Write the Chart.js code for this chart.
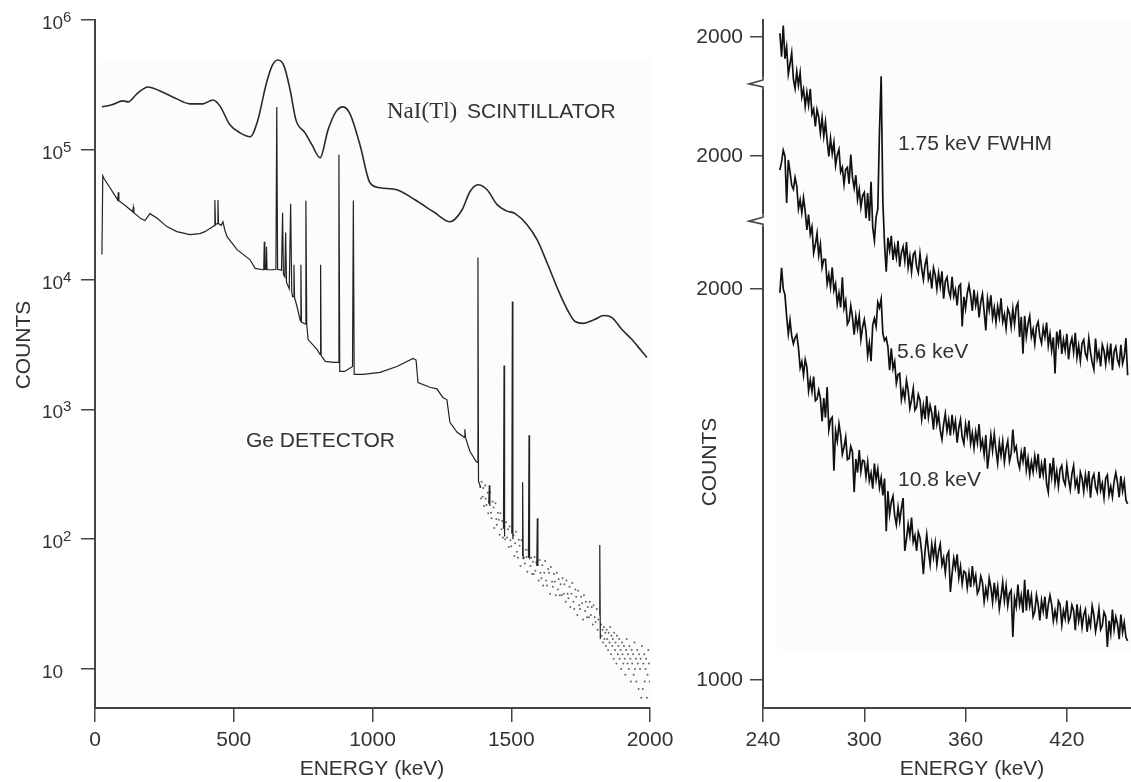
<!DOCTYPE html>
<html>
<head>
<meta charset="utf-8">
<script src="https://cdn.jsdelivr.net/npm/chart.js@4.4.0/dist/chart.umd.min.js"></script>
<style>
  html, body { margin: 0; padding: 0; background: #fff; }
  #wrap { position: relative; width: 1131px; height: 782px; }
  canvas { position: absolute; top: 0; }
  #spectra { left: 0; }
  #zoomed { left: 680px; }
</style>
</head>
<body>
<div id="wrap">
  <canvas id="spectra" width="680" height="782"></canvas>
  <canvas id="zoomed" width="451" height="782"></canvas>
</div>
<script>
// ---- full-range spectra (left panel) ----
const naiEnergy = [25, 61, 101, 119, 151, 191, 234, 288, 342, 389,
  425, 450, 486, 523, 559, 587, 616, 638, 659, 681,
  703, 724, 757, 782, 811, 840, 868, 894, 919, 955,
  991, 1027, 1088, 1153, 1225, 1279, 1323, 1351, 1380, 1413,
  1449, 1481, 1514, 1557, 1593, 1632, 1668, 1705, 1730, 1759,
  1798, 1834, 1863, 1899, 1935, 1971, 1989];
const naiCounts = [214000, 222000, 238000, 234000, 270000, 305000, 284000, 251000, 226000, 226000,
  242000, 218000, 156000, 135000, 126000, 170000, 316000, 443000, 492000, 443000,
  290000, 170000, 135000, 109000, 86800, 143000, 196000, 214000, 189000, 109000,
  55700, 51000, 49200, 41200, 32700, 27900, 34500, 47500, 53800, 49200,
  37800, 34000, 32200, 26500, 20300, 13000, 8400, 5700, 4750, 4600,
  4900, 5280, 5100, 4120, 3450, 2790, 2510];

// Ge line: continuum + peaks; null breaks the line so only the peaks show in the sparse tail
const geEnergy = [25, 28, 33, 54, 72, 82, 84, 86, 110, 136,
  138, 140, 165, 180, 198, 223, 259, 295, 342, 378,
  396, 425, 430, 432, 434, 441, 443, 445, 455, 461,
  468, 476, 512, 559, 577, 605, 608, 610, 612, 616,
  618, 620, 640, 652, 655, 658, 672, 676, 679, 684,
  687, 690, 700, 705, 709, 712, 715, 717, 719, 728,
  740, 742, 744, 757, 760, 763, 768, 800, 811, 813,
  815, 830, 860, 876, 879, 882, 900, 928, 931, 934,
  966, 1027, 1088, 1146, 1157, 1164, 1207, 1232, 1254, 1268,
  1279, 1305, 1331, 1333, 1335, 1351, 1373, 1378, 1380, 1382,
  1390, 1400, 1419, 1421, 1423, 1450, 1472, 1474, 1476, 1490,
  1502, 1504, 1506, 1520, 1539, 1541, 1543, 1550, 1562, 1564,
  1566, 1580, 1592, 1594, 1596, 1700, 1817, 1819, 1821];
const geCounts = [15600, 63000, 59800, 51000, 44300, 41000, 47000, 40500, 37000, 33300,
  36000, 32800, 29500, 28500, 32200, 29800, 25600, 23400, 22200, 22600,
  23400, 25600, 26000, 41000, 26500, 27000, 41000, 27000, 26200, 27900,
  24000, 21400, 17000, 14200, 12200, 11900, 11900, 19600, 12000, 12000,
  17900, 11900, 11900, 12000, 214000, 12000, 11800, 32700, 11000, 10500,
  23000, 9500, 8500, 38400, 8000, 7400, 7400, 13000, 7300, 6200,
  4800, 13000, 4700, 4550, 40500, 4500, 3450, 2900, 2650, 13000,
  2600, 2340, 2300, 2300, 91600, 1960, 1960, 2140, 40600, 1860,
  1860, 1930, 2140, 2470, 2400, 1610, 1480, 1440, 1230, 1190,
  794, 665, 609, 702, 609, 476, 398, 390, 14800, 280,
  250, null, 190, 260, 180, null, 120, 2180, 105, null,
  110, 6770, 100, null, 75, 274, 70, null, 72, 631,
  70, null, 62, 145, 62, null, 26, 90, 17];

// scattered low-count channels of the Ge spectrum
const geCloudEnergy = [1388, 1391, 1393, 1397, 1399, 1402, 1406, 1408, 1411, 1415,
  1417, 1420, 1424, 1427, 1429, 1433, 1436, 1439, 1443, 1446,
  1448, 1452, 1455, 1458, 1461, 1465, 1467, 1470, 1475, 1478,
  1481, 1485, 1488, 1491, 1494, 1497, 1500, 1508, 1511, 1514,
  1517, 1520, 1524, 1527, 1530, 1533, 1537, 1546, 1549, 1552,
  1555, 1558, 1561, 1569, 1572, 1575, 1578, 1581, 1584, 1587,
  1590, 1599, 1602, 1605, 1609, 1612, 1615, 1619, 1622, 1626,
  1629, 1633, 1636, 1640, 1643, 1647, 1650, 1654, 1657, 1661,
  1664, 1668, 1671, 1675, 1678, 1682, 1685, 1689, 1692, 1696,
  1699, 1703, 1706, 1710, 1713, 1717, 1720, 1724, 1727, 1731,
  1734, 1738, 1741, 1745, 1748, 1752, 1755, 1759, 1762, 1766,
  1769, 1773, 1776, 1780, 1783, 1787, 1790, 1794, 1797, 1801,
  1804, 1808, 1811, 1814, 1824, 1826, 1829, 1831, 1834, 1836,
  1839, 1841, 1844, 1846, 1849, 1851, 1854, 1856, 1859, 1861,
  1864, 1866, 1869, 1871, 1874, 1876, 1879, 1881, 1884, 1886,
  1889, 1891, 1894, 1896, 1899, 1901, 1904, 1906, 1909, 1911,
  1914, 1916, 1919, 1921, 1924, 1926, 1929, 1931, 1934, 1936,
  1939, 1941, 1944, 1946, 1949, 1951, 1954, 1956, 1959, 1961,
  1964, 1966, 1969, 1971, 1974, 1976, 1979, 1981, 1984, 1986,
  1989, 1991, 1994, 1996, 1999];
const geCloudCounts = [252, 206, 277, 212, 248, 180, 259, 205, 183, 228,
  158, 189, 230, 160, 145, 195, 175, 122, 189, 143,
  129, 160, 141, 108, 158, 119, 138, 103, 125, 100,
  135, 103, 119, 87, 125, 98, 88, 107, 74, 93,
  114, 80, 72, 99, 89, 62, 98, 72, 65, 83,
  73, 56, 83, 62, 72, 54, 67, 54, 73, 57,
  66, 48, 69, 55, 50, 63, 44, 55, 68, 48,
  44, 59, 55, 38, 61, 47, 43, 54, 47, 37,
  55, 41, 49, 37, 45, 37, 50, 38, 45, 33,
  48, 38, 35, 43, 30, 38, 46, 33, 29, 41,
  36, 26, 40, 31, 29, 36, 32, 24, 37, 28,
  33, 25, 30, 25, 33, 26, 30, 22, 31, 25,
  23, 29, 20, 24, 22, 18, 20, 16, 21, 17,
  19, 15, 20, 17, 14, 19, 16, 21, 13, 18,
  15, 17, 12, 19, 14, 16, 11, 18, 13, 15,
  17, 12, 14, 10, 16, 13, 11, 15, 12, 9,
  14, 17, 11, 13, 10, 15, 12, 8, 14, 11,
  13, 9, 16, 10, 12, 8, 14, 11, 7, 13,
  10, 12, 6, 15, 7, 11, 13, 8, 10, 12,
  6, 9, 14, 11, 8];

const leftXTicks = [0, 500, 1000, 1500, 2000];
const leftYExponents = [1, 2, 3, 4, 5, 6];

// ---- expanded region, three resolutions (right panel), 1 keV channels from 250 keV ----
const channelStart = 250;
const fwhm175Counts = [
  2010, 1950, 2030, 1945, 1975, 1905, 1931, 1960, 1893, 1869,
  1912, 1877, 1909, 1847, 1867, 1823, 1859, 1826, 1868, 1803,
  1816, 1772, 1815, 1796, 1755, 1794, 1747, 1783, 1736, 1695,
  1741, 1702, 1731, 1672, 1699, 1713, 1655, 1667, 1624, 1662,
  1667, 1625, 1700, 1642, 1614, 1647, 1585, 1611, 1565, 1595,
  1603, 1537, 1601, 1530, 1630, 1513, 1480, 1540, 1560, 1760,
  1900, 1580, 1470, 1400, 1487, 1455, 1492, 1430, 1465, 1437,
  1479, 1413, 1449, 1464, 1428, 1476, 1411, 1440, 1400, 1444,
  1451, 1413, 1398, 1446, 1408, 1380, 1418, 1436, 1381, 1396,
  1357, 1410, 1392, 1356, 1396, 1363, 1401, 1331, 1376, 1386,
  1351, 1336, 1387, 1337, 1354, 1314, 1362, 1368, 1260, 1336,
  1306, 1345, 1366, 1339, 1300, 1354, 1314, 1338, 1283, 1322,
  1343, 1298, 1250, 1331, 1302, 1340, 1282, 1308, 1270, 1311,
  1284, 1332, 1272, 1291, 1255, 1305, 1293, 1259, 1305, 1266,
  1309, 1320, 1233, 1285, 1190, 1287, 1234, 1267, 1287, 1234,
  1253, 1216, 1261, 1272, 1234, 1217, 1257, 1233, 1270, 1211,
  1241, 1199, 1232, 1140, 1247, 1215, 1252, 1190, 1226, 1199,
  1241, 1176, 1214, 1230, 1195, 1244, 1181, 1211, 1172, 1217,
  1226, 1190, 1178, 1229, 1194, 1168, 1150, 1229, 1177, 1195,
  1158, 1213, 1198, 1164, 1206, 1176, 1216, 1148, 1196, 1208,
  1175, 1162, 1213, 1165, 1183, 1230, 1135];
const fwhm56Counts = [
  1964, 1985, 2015, 2000, 1880, 1990, 1960, 1925, 1915, 1945,
  1924, 1865, 1888, 1855, 1893, 1859, 1811, 1850, 1800, 1819,
  1752, 1773, 1802, 1746, 1774, 1715, 1736, 1736, 1673, 1697,
  1665, 1715, 1656, 1673, 1622, 1649, 1613, 1690, 1611, 1630,
  1570, 1579, 1617, 1588, 1543, 1590, 1559, 1591, 1531, 1562,
  1582, 1552, 1490, 1521, 1475, 1568, 1585, 1564, 1626, 1612,
  1634, 1546, 1528, 1535, 1512, 1452, 1508, 1456, 1474, 1419,
  1441, 1444, 1377, 1402, 1379, 1426, 1400, 1355, 1376, 1405,
  1350, 1358, 1390, 1376, 1327, 1361, 1327, 1386, 1332, 1362,
  1342, 1300, 1362, 1315, 1338, 1298, 1275, 1314, 1341, 1297,
  1324, 1285, 1338, 1298, 1322, 1267, 1305, 1326, 1281, 1264,
  1314, 1285, 1323, 1265, 1291, 1253, 1294, 1267, 1314, 1254,
  1273, 1236, 1286, 1200, 1240, 1286, 1246, 1289, 1248, 1214,
  1267, 1234, 1270, 1217, 1251, 1271, 1219, 1238, 1300, 1246,
  1257, 1219, 1202, 1243, 1219, 1256, 1197, 1227, 1185, 1218,
  1192, 1232, 1201, 1238, 1176, 1212, 1185, 1227, 1161, 1140,
  1214, 1179, 1228, 1164, 1194, 1155, 1199, 1208, 1171, 1159,
  1208, 1173, 1147, 1187, 1208, 1155, 1173, 1136, 1191, 1176,
  1142, 1184, 1154, 1194, 1126, 1174, 1186, 1153, 1140, 1192,
  1145, 1163, 1126, 1176, 1184, 1133, 1155, 1128, 1168, 1190,
  1164, 1127, 1181, 1143, 1168, 1120, 1110];
const fwhm108Counts = [
  1990, 2054, 2000, 1985, 1930, 1885, 1920, 1880, 1860, 1875,
  1883, 1850, 1798, 1814, 1780, 1819, 1800, 1739, 1767, 1738,
  1776, 1714, 1718, 1741, 1720, 1662, 1721, 1671, 1749, 1640,
  1666, 1672, 1535, 1637, 1611, 1655, 1626, 1577, 1595, 1621,
  1563, 1566, 1597, 1583, 1480, 1565, 1530, 1588, 1533, 1562,
  1560, 1520, 1557, 1509, 1529, 1489, 1553, 1512, 1539, 1492,
  1517, 1472, 1515, 1380, 1483, 1423, 1455, 1470, 1420, 1397,
  1441, 1406, 1439, 1465, 1330, 1360, 1398, 1369, 1415, 1353,
  1369, 1330, 1378, 1364, 1327, 1270, 1330, 1372, 1330, 1295,
  1347, 1314, 1349, 1295, 1328, 1347, 1294, 1312, 1274, 1318,
  1328, 1225, 1271, 1311, 1286, 1321, 1261, 1290, 1246, 1278,
  1274, 1236, 1273, 1237, 1291, 1248, 1267, 1221, 1232, 1265,
  1249, 1200, 1234, 1211, 1260, 1236, 1199, 1248, 1209, 1238,
  1182, 1212, 1250, 1203, 1240, 1190, 1221, 1229, 1110, 1209,
  1187, 1244, 1192, 1216, 1172, 1256, 1177, 1231, 1189, 1215,
  1162, 1175, 1217, 1193, 1152, 1203, 1176, 1213, 1156, 1192,
  1216, 1193, 1151, 1177, 1153, 1202, 1193, 1141, 1177, 1157,
  1203, 1149, 1160, 1191, 1177, 1127, 1193, 1151, 1179, 1135,
  1167, 1180, 1123, 1158, 1138, 1189, 1166, 1124, 1148, 1181,
  1129, 1139, 1173, 1162, 1084, 1151, 1119, 1180, 1129, 1161,
  1143, 1104, 1167, 1122, 1147, 1109, 1100];

const rightXTicks = [240, 300, 360, 420];
// each trace sits on its own offset copy of the count axis
const traceOffsets = { a: 644, b: 340, c: 0 };
const rightTickCounts = [1000, 2000, 2000, 2000];
const rightTickTrace = ['c', 'c', 'b', 'a'];
const axisBreaks = [2527, 2176];

const INK = '#333';
const AXIS = '#444';
const SANS = '"Liberation Sans", Arial, Helvetica, sans-serif';
Chart.defaults.font.family = SANS;
Chart.defaults.font.size = 21;
Chart.defaults.color = INK;

const toPoints = (xs, ys) => xs.map((x, i) => ({ x: x, y: ys[i] }));
const channelPoints = ys => ys.map((y, i) => ({ x: channelStart + i, y: y }));

function text(ctx, str, x, y, font, opts) {
  opts = opts || {};
  ctx.save();
  ctx.font = font;
  ctx.fillStyle = INK;
  ctx.textAlign = opts.align || 'left';
  ctx.textBaseline = opts.baseline || 'alphabetic';
  if (opts.rotate) {
    ctx.translate(x, y);
    ctx.rotate(opts.rotate);
    ctx.fillText(str, 0, 0);
  } else {
    ctx.fillText(str, x, y);
  }
  ctx.restore();
}

function tint(chart, x0, y0, x1, y1) {
  const ctx = chart.ctx;
  ctx.save();
  ctx.fillStyle = '#fbfcfe';
  ctx.fillRect(x0, y0, x1 - x0, y1 - y0);
  ctx.restore();
}

const axisStyle = {
  grid: { drawOnChartArea: false, tickLength: 14, color: AXIS, lineWidth: 1.5 },
  border: { color: AXIS, width: 2 }
};

// left: NaI(Tl) vs Ge, log counts
new Chart(document.getElementById('spectra'), {
  type: 'line',
  data: {
    datasets: [
      { data: toPoints(naiEnergy, naiCounts), borderColor: '#2a2a2a', borderWidth: 1.6,
        pointRadius: 0, cubicInterpolationMode: 'monotone' },
      { data: toPoints(geEnergy, geCounts), borderColor: '#222', borderWidth: 1.2,
        pointRadius: 0, tension: 0, spanGaps: false },
      { data: toPoints(geCloudEnergy, geCloudCounts), showLine: false, pointRadius: 1,
        pointBorderWidth: 0, pointBackgroundColor: '#666' }
    ]
  },
  options: {
    responsive: false, animation: false, devicePixelRatio: 1, events: [],
    layout: { padding: { top: 20, right: 30, left: 0, bottom: 0 } },
    plugins: { legend: { display: false }, tooltip: { enabled: false } },
    scales: {
      x: {
        type: 'linear', min: 0, max: 2000,
        afterBuildTicks: s => { s.ticks = leftXTicks.map(v => ({ value: v })); },
        afterFit: s => { s.height = 74; },
        ticks: { padding: 6, maxRotation: 0, color: INK, callback: v => String(v) },
        ...axisStyle
      },
      y: {
        type: 'logarithmic', min: 5, max: 1e6,
        afterBuildTicks: s => { s.ticks = leftYExponents.map(e => ({ value: Math.pow(10, e) })); },
        afterFit: s => { s.width = 95; },
        ticks: { display: false },
        ...axisStyle
      }
    }
  },
  plugins: [{
    id: 'leftDecor',
    beforeDatasetsDraw(chart) {
      tint(chart, 97, 58, 651, 704);
    },
    afterDraw(chart) {
      const ctx = chart.ctx;
      const y = chart.scales.y;
      leftYExponents.forEach(e => {
        const py = y.getPixelForValue(Math.pow(10, e));
        text(ctx, '10', 42, py + 9, '19px ' + SANS);
        if (e > 1) text(ctx, String(e), 63, py + 2, '15px ' + SANS);
      });
      text(ctx, 'COUNTS', 24, 345, '21px ' + SANS, { align: 'center', baseline: 'middle', rotate: -Math.PI / 2 });
      text(ctx, 'ENERGY (keV)', 372, 775, '21px ' + SANS, { align: 'center' });
      text(ctx, 'NaI(Tl)', 387, 118, '23px "Liberation Serif", "Times New Roman", serif');
      text(ctx, 'SCINTILLATOR', 467, 118, '21px ' + SANS);
      text(ctx, 'Ge DETECTOR', 246, 447, '21px ' + SANS);
    }
  }]
});

// right: 240-460 keV at three detector resolutions
const offsetAxis = off => ({ type: 'linear', display: false, min: 928 - off, max: 2688 - off });

new Chart(document.getElementById('zoomed'), {
  type: 'line',
  data: {
    datasets: [
      { data: channelPoints(fwhm175Counts), yAxisID: 'ya' },
      { data: channelPoints(fwhm56Counts), yAxisID: 'yb' },
      { data: channelPoints(fwhm108Counts), yAxisID: 'y' }
    ].map(d => Object.assign(d, { borderColor: '#111', borderWidth: 1.7, pointRadius: 0, tension: 0 }))
  },
  options: {
    responsive: false, animation: false, devicePixelRatio: 1, events: [],
    layout: { padding: { top: 20, right: 0, left: 0, bottom: 0 } },
    plugins: { legend: { display: false }, tooltip: { enabled: false } },
    scales: {
      x: {
        type: 'linear', min: 240, max: 458,
        afterBuildTicks: s => { s.ticks = rightXTicks.map(v => ({ value: v })); },
        afterFit: s => { s.height = 74; },
        ticks: { padding: 6, maxRotation: 0, color: INK, callback: v => String(v) },
        ...axisStyle
      },
      y: {
        type: 'linear', min: 928, max: 2688,
        afterBuildTicks: s => {
          s.ticks = rightTickCounts.map((c, i) => ({ value: c + traceOffsets[rightTickTrace[i]] }));
        },
        afterFit: s => { s.width = 83; },
        ticks: { padding: 7, color: INK, callback: (v, i) => String(rightTickCounts[i]) },
        grid: { drawOnChartArea: false, tickLength: 13, color: AXIS, lineWidth: 1.5 },
        border: { color: AXIS, width: 2 }
      },
      yb: offsetAxis(traceOffsets.b),
      ya: offsetAxis(traceOffsets.a)
    }
  },
  plugins: [{
    id: 'rightDecor',
    beforeDatasetsDraw(chart) {
      tint(chart, 97, 20, 451, 650);
    },
    afterDraw(chart) {
      const ctx = chart.ctx;
      const y = chart.scales.y;
      const ax = chart.chartArea.left;
      // broken-axis marks
      axisBreaks.forEach(v => {
        const py = y.getPixelForValue(v);
        ctx.save();
        ctx.fillStyle = '#fff';
        ctx.fillRect(ax - 16, py - 6, 20, 12);
        ctx.strokeStyle = AXIS;
        ctx.lineWidth = 1.6;
        ctx.beginPath();
        ctx.moveTo(ax, py - 6);
        ctx.lineTo(ax, py - 3);
        ctx.lineTo(ax - 14, py + 1);
        ctx.lineTo(ax, py + 4);
        ctx.lineTo(ax, py + 6);
        ctx.stroke();
        ctx.restore();
      });
      text(ctx, 'COUNTS', 30, 462, '21px ' + SANS, { align: 'center', baseline: 'middle', rotate: -Math.PI / 2 });
      text(ctx, 'ENERGY (keV)', 292, 775, '21px ' + SANS, { align: 'center' });
      text(ctx, '1.75 keV FWHM', 218, 150, '21px ' + SANS);
      text(ctx, '5.6 keV', 217, 358, '21px ' + SANS);
      text(ctx, '10.8 keV', 218, 486, '21px ' + SANS);
    }
  }]
});
</script>
</body>
</html>
